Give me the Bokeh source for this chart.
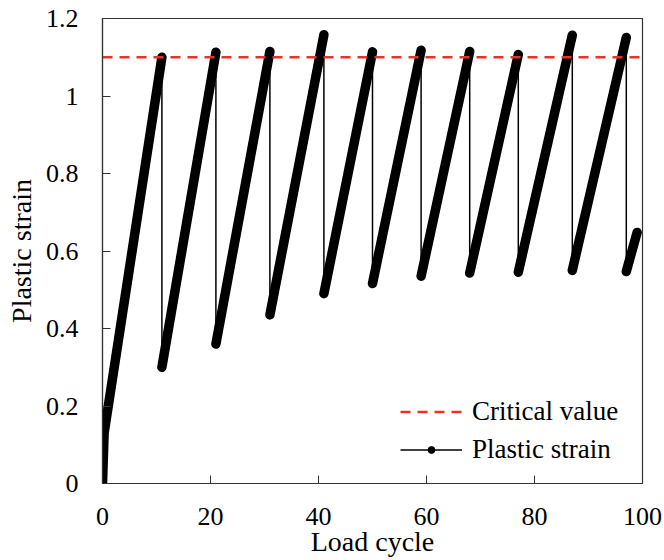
from bokeh.plotting import figure
from bokeh.models import Range1d, Legend, LegendItem, FixedTicker
from bokeh.embed import file_html
from bokeh.resources import INLINE

# ---- data ----
cycle = [0, 0.3, 11, 11, 21, 21, 31, 31, 41, 41, 50, 50, 59, 59, 68, 68, 77, 77, 87, 87, 97, 97, 99]
strain = [0, 0.13, 1.10, 0.30, 1.113, 0.36, 1.115, 0.435, 1.158, 0.49, 1.114, 0.516,
          1.118, 0.535, 1.115, 0.543, 1.107, 0.545, 1.157, 0.55, 1.151, 0.547, 0.648]
critical_value = 1.1
x_ticks = [0, 20, 40, 60, 80, 100]
y_ticks = [0, 0.2, 0.4, 0.6, 0.8, 1.0, 1.2]
y_tick_labels = ["0", "0.2", "0.4", "0.6", "0.8", "1", "1.2"]

FONT = "Liberation Serif"
AX = "#333333"

p = figure(frame_width=540, frame_height=465, output_backend="svg", toolbar_location=None,
           x_range=Range1d(0, 100), y_range=Range1d(0, 1.2),
           min_border_left=102, min_border_top=18, min_border_right=20, min_border_bottom=76,
           background_fill_color="white", border_fill_color="white")
p.grid.visible = False
p.outline_line_color = AX
p.outline_line_width = 1.2

# rising branches (start -> peak), drawn thick like the dense markers of the original
seg_x, seg_y = [[cycle[0], cycle[1], cycle[2]]], [[strain[0], strain[1], strain[2]]]
for i in range(3, len(cycle) - 1, 2):
    seg_x.append([cycle[i], cycle[i + 1]])
    seg_y.append([strain[i], strain[i + 1]])

p.multi_line(seg_x, seg_y, line_color="black", line_width=9.5, line_cap="round", line_join="round")
thin = p.line(cycle, strain, line_color="black", line_width=1.5)
dots = p.scatter(cycle, strain, size=7, marker="circle", fill_color="black", line_color="black")
crit = p.line([0, 100], [critical_value, critical_value], line_color="#E8322B",
              line_width=2.5, line_dash="10 7")

# axes
p.xaxis.ticker = FixedTicker(ticks=x_ticks)
p.yaxis.ticker = FixedTicker(ticks=y_ticks)
p.yaxis.major_label_overrides = {t: l for t, l in zip(y_ticks, y_tick_labels)}
for ax in (p.xaxis[0], p.yaxis[0]):
    ax.major_tick_in = 8
    ax.major_tick_out = 0
    ax.minor_tick_line_color = None
    ax.axis_line_color = AX
    ax.major_tick_line_color = AX
    ax.axis_line_width = 1.2
    ax.major_label_text_font = FONT
    ax.major_label_text_font_size = "26px"
    ax.major_label_text_color = "black"
    ax.axis_label_text_font = FONT
    ax.axis_label_text_font_size = "28px"
    ax.axis_label_text_font_style = "normal"
    ax.axis_label_text_color = "black"
p.xaxis.axis_label = "Load cycle"
p.yaxis.axis_label = "Plastic strain"
p.xaxis.major_label_standoff = 24
p.yaxis.major_label_standoff = 24
p.xaxis.axis_label_standoff = -2
p.yaxis.axis_label_standoff = 6

legend = Legend(items=[LegendItem(label="Critical value", renderers=[crit]),
                       LegendItem(label="Plastic strain", renderers=[thin, dots])],
                location=(298, 18), orientation="vertical")
legend.padding = 0
legend.margin = 0
legend.spacing = 7
legend.glyph_width = 62
legend.glyph_height = 17
legend.label_height = 31
legend.label_standoff = 10
legend.label_text_font = FONT
legend.label_text_font_size = "27px"
legend.label_text_color = "black"
legend.background_fill_alpha = 0
legend.border_line_alpha = 0
p.add_layout(legend)

open("out.html", "w").write(file_html(p, INLINE))
